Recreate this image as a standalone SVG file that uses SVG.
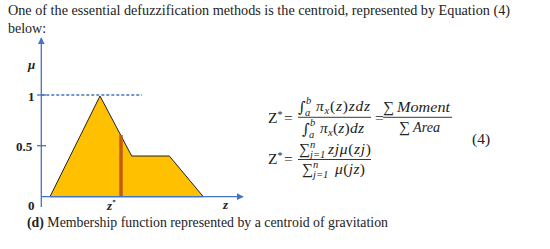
<svg xmlns="http://www.w3.org/2000/svg" width="550" height="249" viewBox="0 0 550 249">
<style>
.txt{font-family:"Liberation Serif",serif;font-size:14px;fill:#222}
.lab{font-family:"Liberation Serif",serif;font-weight:bold;font-size:13px;fill:#222}
.eq{font-family:"Liberation Serif",serif;font-style:italic;font-size:15.5px;fill:#222}
.eqr{font-family:"Liberation Serif",serif;font-style:normal;font-size:15.5px;fill:#222}
.int{font-family:"DejaVu Serif",serif;font-size:15px;fill:#222}
.sm{font-family:"Liberation Serif",serif;font-style:italic;font-size:10.5px;fill:#222}
.axis{stroke:#4472C4;stroke-width:1.3;fill:none}
.frac{stroke:#222;stroke-width:0.9}
</style>
<defs>
<marker id="ah" viewBox="0 0 10 10" refX="9" refY="5" markerWidth="7" markerHeight="7" orient="auto" markerUnits="userSpaceOnUse">
<path d="M0,0 L10,5 L0,10 z" fill="#4472C4"/>
</marker>
</defs>
<text class="txt" x="8" y="15" textLength="502" lengthAdjust="spacingAndGlyphs">One of the essential defuzzification methods is the centroid, represented by Equation (4)</text>
<text class="txt" x="8" y="33">below:</text>

<g id="chart">
<polygon points="50,196.7 100,96 131.7,156 169.3,156 203.3,196.7" fill="#FFC000" stroke="#222" stroke-width="1"/>
<line x1="121" y1="135" x2="121" y2="196.7" stroke="#C55A11" stroke-width="3.5"/>
<line class="axis" x1="41.3" y1="207" x2="41.3" y2="38" marker-end="url(#ah)"/>
<line class="axis" x1="41.3" y1="196.7" x2="243" y2="196.7" marker-end="url(#ah)"/>
<line class="axis" x1="41.3" y1="95" x2="142" y2="95" stroke-dasharray="3,2"/>
<line class="axis" x1="37" y1="95" x2="46" y2="95"/>
<line class="axis" x1="37" y1="145.7" x2="46" y2="145.7"/>
<text class="lab" x="28" y="69" font-style="italic">μ</text>
<text class="lab" x="28" y="101">1</text>
<text class="lab" x="16" y="151">0.5</text>
<text class="lab" x="28" y="210">0</text>
<text class="lab" x="107" y="210" font-style="italic">z<tspan font-size="7" dy="-6">*</tspan></text>
<text class="lab" x="223" y="209" font-style="italic">z</text>
</g>

<g id="equation">
<text class="eqr" x="268" y="123">Z<tspan font-size="10" dy="-5">*</tspan><tspan dy="5" x="284">=</tspan></text>
<text class="int" x="298" y="112">∫</text>
<text class="sm" x="306" y="104">b</text>
<text class="sm" x="305" y="116">a</text>
<text class="eq" x="316" y="111" textLength="54" lengthAdjust="spacing">π<tspan class="sm" dy="3">x</tspan><tspan class="eqr" dy="-3">(</tspan>z<tspan class="eqr">)</tspan>zdz</text>
<line class="frac" x1="298" y1="117.3" x2="371" y2="117.3"/>
<text class="int" x="302" y="134">∫</text>
<text class="sm" x="310" y="126">b</text>
<text class="sm" x="309" y="138">a</text>
<text class="eq" x="320" y="133" textLength="44" lengthAdjust="spacing">π<tspan class="sm" dy="3">x</tspan><tspan class="eqr" dy="-3">(</tspan>z<tspan class="eqr">)</tspan>dz</text>
<text class="eqr" x="375" y="123">=</text>
<text class="eqr" x="383" y="112">∑</text>
<text class="eq" x="397" y="112" textLength="53" lengthAdjust="spacingAndGlyphs">Moment</text>
<line class="frac" x1="383" y1="117.3" x2="452" y2="117.3"/>
<text class="eqr" x="399" y="132">∑</text>
<text class="eq" x="413" y="132" textLength="27" lengthAdjust="spacingAndGlyphs">Area</text>
<text class="eqr" x="472" y="144">(4)</text>

<text class="eqr" x="268" y="164">Z<tspan font-size="10" dy="-5">*</tspan><tspan dy="5" x="284">=</tspan></text>
<text class="eqr" x="299" y="154">∑</text>
<text class="sm" x="310" y="148">n</text>
<text class="sm" x="310" y="158">j=1</text>
<text class="eq" x="328" y="154" textLength="43" lengthAdjust="spacing">zjμ<tspan class="eqr">(</tspan>zj<tspan class="eqr">)</tspan></text>
<line class="frac" x1="298" y1="159.5" x2="371" y2="159.5"/>
<text class="eqr" x="302" y="174">∑</text>
<text class="sm" x="313" y="168">n</text>
<text class="sm" x="313" y="178">j=1</text>
<text class="eq" x="335" y="174" textLength="30" lengthAdjust="spacing">μ<tspan class="eqr">(</tspan>jz<tspan class="eqr">)</tspan></text>
</g>

<text class="txt" x="27" y="227" font-size="12" textLength="361" lengthAdjust="spacingAndGlyphs"><tspan font-weight="bold">(d)</tspan> Membership function represented by a centroid of gravitation</text>
</svg>
